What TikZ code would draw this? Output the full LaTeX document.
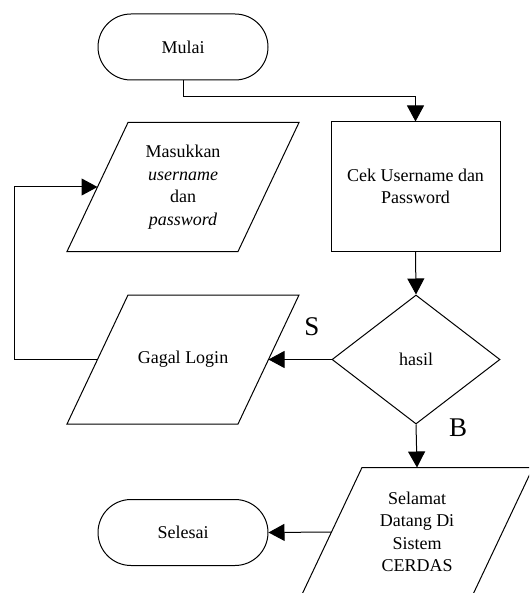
\documentclass[tikz,border=0pt]{standalone}
\usepackage{fontspec}
\setmainfont{Liberation Serif}
\usetikzlibrary{shapes.geometric,shapes.misc,arrows.meta,calc}
\tikzset{
  base/.style={draw=black, line width=1pt, font=\fontsize{18}{22.5}\selectfont, align=center, inner sep=0pt},
  term/.style={base, rounded rectangle, minimum width=170pt, minimum height=66pt},
  proc/.style={base, rectangle, minimum width=169pt, minimum height=129pt},
  txt/.style={font=\fontsize{18}{22.5}\selectfont, align=center, inner sep=0pt},
  para/.style={draw=black, line width=1pt, line join=miter},
  dec/.style={base, diamond, minimum width=168pt, minimum height=129pt},
  arr/.style={draw=black, line width=1pt, -{Triangle[length=16pt,width=17pt]}},
  lbl/.style={font=\fontsize{27}{30}\selectfont, inner sep=0pt}
}
\newcommand{\paragram}[1]{%
  \draw[para] ($(#1)+(-55,-64.5)$) -- ++(171,0) -- ++(-61,129) -- ++(-171,0) -- cycle;
  \coordinate (#1L) at ($(#1)+(-85.5,0)$);
  \coordinate (#1R) at ($(#1)+(85.5,0)$);
  \coordinate (#1T) at ($(#1)+(0,-64.5)$);
}
\begin{document}
\begin{tikzpicture}[x=1pt,y=-1pt]
\useasboundingbox (0,0) rectangle (529,593);
\clip (0,0) rectangle (529,593);
\node[term] (mulai) at (183,47) {Mulai};
\node[proc] (cek) at (415.5,186.5) {Cek Username dan\\Password};
\node[txt] (masuk) at (183,187) {Masukkan\\\textit{username}\\dan\\\textit{password}};
\paragram{masuk}
\node[dec] (hasil) at (416,359.5) {hasil};
\node[txt] (gagal) at (183,359.5) {Gagal Login};
\paragram{gagal}
\node[txt] (selamat) at (417,532) {Selamat\\Datang Di\\Sistem\\CERDAS};
\paragram{selamat}
\node[term] (selesai) at (183,532.5) {Selesai};
\node[lbl] (s) at (312,327) {S};
\node[lbl] (b) at (458,428) {B};
\coordinate (loop) at (14,359.5);
\draw[arr] (mulai.south) -- ++(0,16) -| (cek.north);
\draw[arr] (cek.south) -- (hasil.north);
\draw[arr] (hasil.west) -- (gagalR);
\draw[arr] (gagalL) -- (loop) |- (masukL);
\draw[arr] (hasil.south) -- (selamatT);
\draw[arr] (selamatL) -- (selesai.east);
\end{tikzpicture}
\end{document}
